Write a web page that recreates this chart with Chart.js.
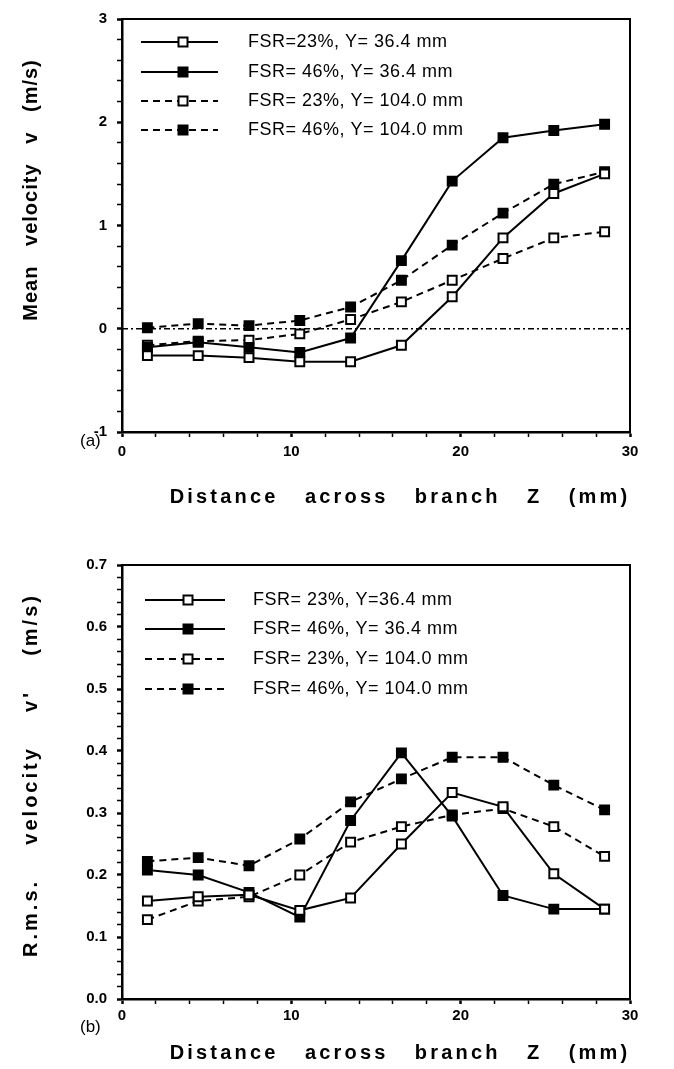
<!DOCTYPE html>
<html>
<head>
<meta charset="utf-8">
<script src="https://cdn.jsdelivr.net/npm/chart.js@4.4.1/dist/chart.umd.min.js"></script>
<style>
  body { margin: 0; background: #fff; width: 674px; height: 1069px; overflow: hidden; }
  canvas { position: absolute; left: 0; }
</style>
</head>
<body>
<canvas id="chartA" width="674" height="530" style="top:0"></canvas>
<canvas id="chartB" width="674" height="539" style="top:530px"></canvas>
<script>
// distance across branch Z (mm)
const zPositions = [1.5, 4.5, 7.5, 10.5, 13.5, 16.5, 19.5, 22.5, 25.5, 28.5];

// (a) mean velocity v (m/s)
const meanFsr23Y36 = [-0.26, -0.26, -0.28, -0.32, -0.32, -0.16, 0.31, 0.88, 1.31, 1.50];
const meanFsr46Y36 = [-0.18, -0.13, -0.18, -0.23, -0.09, 0.66, 1.43, 1.85, 1.92, 1.98];
const meanFsr23Y104 = [-0.16, -0.12, -0.11, -0.05, 0.09, 0.26, 0.47, 0.68, 0.88, 0.94];
const meanFsr46Y104 = [0.01, 0.05, 0.03, 0.08, 0.21, 0.47, 0.81, 1.12, 1.40, 1.52];
const legendA = ["FSR=23%, Y= 36.4 mm", "FSR= 46%, Y= 36.4 mm", "FSR= 23%, Y= 104.0 mm", "FSR= 46%, Y= 104.0 mm"];

// (b) r.m.s. velocity v' (m/s)
const rmsFsr23Y36 = [0.158, 0.165, 0.168, 0.143, 0.163, 0.250, 0.333, 0.310, 0.202, 0.145];
const rmsFsr46Y36 = [0.208, 0.200, 0.172, 0.132, 0.288, 0.397, 0.295, 0.167, 0.145, 0.145];
const rmsFsr23Y104 = [0.128, 0.158, 0.165, 0.200, 0.253, 0.278, 0.297, 0.307, 0.278, 0.230];
const rmsFsr46Y104 = [0.222, 0.228, 0.215, 0.258, 0.318, 0.355, 0.390, 0.390, 0.345, 0.305];
const legendB = ["FSR= 23%, Y=36.4 mm", "FSR= 46%, Y= 36.4 mm", "FSR= 23%, Y= 104.0 mm", "FSR= 46%, Y= 104.0 mm"];

const xTicks = [0, 10, 20, 30];
const yTicksA = [-1, 0, 1, 2, 3];
const yTicksB = [0, 0.1, 0.2, 0.3, 0.4, 0.5, 0.6, 0.7];

Chart.defaults.font.family = "'Liberation Sans', Arial, sans-serif";
Chart.defaults.color = "#000";

const DASH = [7, 5];

function pts(ys) {
    return zPositions.map((z, i) => ({ x: z, y: ys[i] }));
}

function series(label, ys, filled, dashed) {
    return {
        label: label,
        data: pts(ys),
        borderColor: "#000",
        borderWidth: 2,
        borderDash: dashed ? DASH : [],
        pointStyle: "rect",
        pointRadius: 6.3,
        pointBorderWidth: 2,
        pointBorderColor: "#000",
        pointBackgroundColor: filled ? "#000" : "#fff",
        fill: false,
        tension: 0
    };
}

function isOn(v, list) {
    return list.some(t => Math.abs(v - t) < 1e-6);
}

// frame, legend, titles, panel label
const deco = {
    id: "deco",
    afterDraw(chart, args, o) {
        const { ctx, chartArea: a } = chart;
        ctx.save();
        ctx.strokeStyle = "#000";
        ctx.lineWidth = 2;
        ctx.beginPath();
        ctx.moveTo(a.left, a.top);
        ctx.lineTo(a.right, a.top);
        ctx.lineTo(a.right, a.bottom);
        ctx.stroke();

        // legend
        ctx.font = "18px 'Liberation Sans', Arial, sans-serif";
        ctx.letterSpacing = "0.5px";
        ctx.textBaseline = "middle";
        ctx.fillStyle = "#000";
        o.rows.forEach((y, i) => {
            const ds = chart.data.datasets[i];
            ctx.setLineDash(ds.borderDash);
            ctx.lineWidth = 2;
            ctx.beginPath();
            ctx.moveTo(o.lineX[0], y);
            ctx.lineTo(o.lineX[1], y);
            ctx.stroke();
            ctx.setLineDash([]);
            ctx.fillStyle = ds.pointBackgroundColor;
            ctx.fillRect(o.markX - 4.5, y - 4.5, 9, 9);
            ctx.strokeRect(o.markX - 4.5, y - 4.5, 9, 9);
            ctx.fillStyle = "#000";
            ctx.textAlign = "left";
            ctx.fillText(o.labels[i], o.textX, y);
        });

        // axis titles
        ctx.font = "bold 20px 'Liberation Sans', Arial, sans-serif";
        ctx.textAlign = "center";
        ctx.letterSpacing = o.xTitleSpacing;
        ctx.fillText(o.xTitle, o.xTitlePos[0], o.xTitlePos[1]);
        ctx.save();
        ctx.letterSpacing = o.yTitleSpacing;
        ctx.translate(o.yTitlePos[0], o.yTitlePos[1]);
        ctx.rotate(-Math.PI / 2);
        ctx.fillText(o.yTitle, 0, 0);
        ctx.restore();
        ctx.letterSpacing = "0px";

        ctx.font = "17px 'Liberation Sans', Arial, sans-serif";
        ctx.textAlign = "left";
        ctx.fillText(o.panel, o.panelPos[0], o.panelPos[1]);
        ctx.restore();
    }
};

function xScale(height, pad) {
    return {
        type: "linear",
        min: 0,
        max: 30,
        afterFit: s => { s.height = height; },
        ticks: {
            stepSize: 2,
            autoSkip: false,
            maxRotation: 0,
            padding: pad,
            font: { size: 15, weight: "bold" },
            callback: v => isOn(v, xTicks) ? String(v) : ""
        },
        grid: {
            drawOnChartArea: false,
            tickLength: 5,
            tickColor: "#000",
            tickWidth: c => isOn(c.tick.value, xTicks) ? 2.5 : 1.5
        },
        border: { display: true, color: "#000", width: 2.5 }
    };
}

function yScale(min, max, step, major, fmt) {
    return {
        type: "linear",
        min: min,
        max: max,
        afterFit: s => { s.width = 122; },
        ticks: {
            stepSize: step,
            autoSkip: false,
            padding: 10,
            font: { size: 15, weight: "bold" },
            callback: v => isOn(v, major) ? fmt(v) : ""
        },
        grid: {
            drawOnChartArea: false,
            tickLength: 5,
            tickColor: "#000",
            tickWidth: c => isOn(c.tick.value, major) ? 2.5 : 1.5
        },
        border: { display: true, color: "#000", width: 2.5 }
    };
}

new Chart(document.getElementById("chartA"), {
    type: "line",
    data: {
        datasets: [
            series(legendA[0], meanFsr23Y36, false, false),
            series(legendA[1], meanFsr46Y36, true, false),
            series(legendA[2], meanFsr23Y104, false, true),
            series(legendA[3], meanFsr46Y104, true, true),
            {
                label: "zero",
                data: [{ x: 0, y: 0 }, { x: 30, y: 0 }],
                borderColor: "#000",
                borderWidth: 1.5,
                borderDash: [6, 3, 2, 3],
                pointRadius: 0
            }
        ]
    },
    options: {
        responsive: false,
        animation: false,
        layout: { padding: { top: 8, right: 44, left: 0, bottom: 0 } },
        scales: {
            x: xScale(98, 6),
            y: yScale(-1, 3, 0.2, yTicksA, v => String(Math.round(v)))
        },
        plugins: {
            legend: { display: false },
            tooltip: { enabled: false },
            deco: {
                rows: [42, 72, 101, 130],
                lineX: [141, 218],
                markX: 183,
                textX: 248,
                labels: legendA,
                xTitle: "Distance   across   branch   Z   (mm)",
                xTitlePos: [400, 497],
                xTitleSpacing: "3.2px",
                yTitle: "Mean   velocity   v   (m/s)",
                yTitlePos: [31, 190],
                yTitleSpacing: "1px",
                panel: "(a)",
                panelPos: [80, 441]
            }
        }
    },
    plugins: [deco]
});

new Chart(document.getElementById("chartB"), {
    type: "line",
    data: {
        datasets: [
            series(legendB[0], rmsFsr23Y36, false, false),
            series(legendB[1], rmsFsr46Y36, true, false),
            series(legendB[2], rmsFsr23Y104, false, true),
            series(legendB[3], rmsFsr46Y104, true, true)
        ]
    },
    options: {
        responsive: false,
        animation: false,
        layout: { padding: { top: 35, right: 44, left: 0, bottom: 0 } },
        scales: {
            x: xScale(70, 3),
            y: yScale(0, 0.7, 0.02, yTicksB, v => v.toFixed(1))
        },
        plugins: {
            legend: { display: false },
            tooltip: { enabled: false },
            deco: {
                rows: [70, 99, 129, 159],
                lineX: [145, 225],
                markX: 188,
                textX: 253,
                labels: legendB,
                xTitle: "Distance   across   branch   Z   (mm)",
                xTitlePos: [400, 523],
                xTitleSpacing: "3.2px",
                yTitle: "R.m.s.    velocity    v'    (m/s)",
                yTitlePos: [31, 245],
                yTitleSpacing: "3px",
                panel: "(b)",
                panelPos: [80, 497]
            }
        }
    },
    plugins: [deco]
});
</script>
</body>
</html>
